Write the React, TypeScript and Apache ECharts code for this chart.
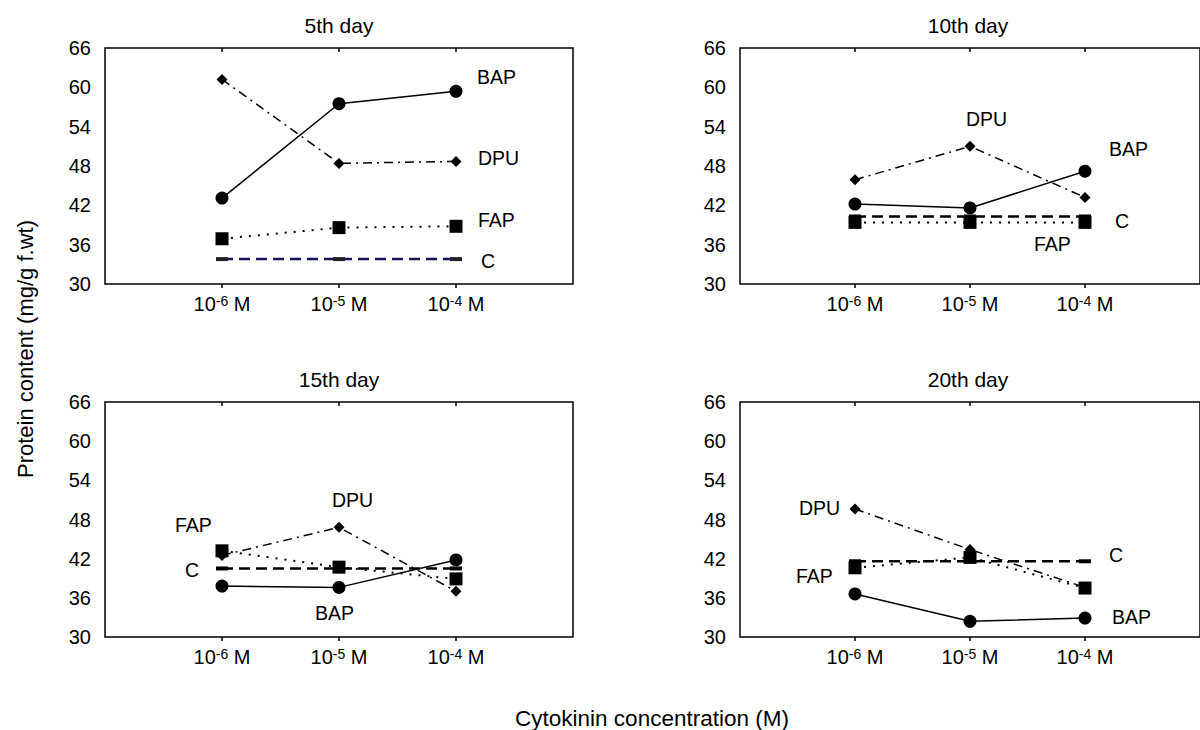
import React, { useEffect, useRef } from "react";
import * as echarts from "echarts";

// ---- data ----
const concentrations = [1, 2, 3];
const exponents = ["-6", "-5", "-4"];
const panelTitles = ["5th day", "10th day", "15th day", "20th day"];
const seriesNames = ["BAP", "DPU", "FAP", "C"];

const bap5 = [43.1, 57.5, 59.4];
const dpu5 = [61.2, 48.4, 48.7];
const fap5 = [36.9, 38.6, 38.8];
const c5 = [33.8, 33.8, 33.8];

const bap10 = [42.2, 41.6, 47.2];
const dpu10 = [45.9, 51.0, 43.2];
const fap10 = [39.4, 39.4, 39.4];
const c10 = [40.3, 40.3, 40.3];

const bap15 = [37.8, 37.6, 41.8];
const dpu15 = [42.5, 46.8, 37.0];
const fap15 = [43.2, 40.7, 38.9];
const c15 = [40.5, 40.5, 40.5];

const bap20 = [36.6, 32.4, 32.9];
const dpu20 = [49.6, 43.4, 37.6];
const fap20 = [40.6, 42.2, 37.5];
const c20 = [41.6, 41.6, 41.6];

const panelData = [
  [bap5, dpu5, fap5, c5],
  [bap10, dpu10, fap10, c10],
  [bap15, dpu15, fap15, c15],
  [bap20, dpu20, fap20, c20],
];

const FONT = "Liberation Sans, Arial, Helvetica, sans-serif";

const grids = [
  { left: 105, top: 48, width: 468, height: 236 },
  { left: 740, top: 48, width: 468, height: 236 },
  { left: 105, top: 402, width: 468, height: 235 },
  { left: 740, top: 402, width: 468, height: 235 },
];

const styleFor = (name: string, panel: number) => {
  const black = "#000";
  switch (name) {
    case "BAP":
      return { symbol: "circle", symbolSize: 13, lineStyle: { color: black, width: 1.5, type: "solid" }, itemStyle: { color: black } };
    case "DPU":
      return { symbol: "diamond", symbolSize: 11, lineStyle: { color: black, width: 1.5, type: [9, 5, 2, 5] }, itemStyle: { color: black } };
    case "FAP":
      return { symbol: "rect", symbolSize: 13, lineStyle: { color: black, width: 2, type: [2, 7] }, itemStyle: { color: black } };
    default: {
      const col = panel === 0 ? "#14145a" : black;
      return { symbol: "rect", symbolSize: [12, 4], lineStyle: { color: col, width: 2.5, type: [11, 6] }, itemStyle: { color: panel === 0 ? "#222" : black } };
    }
  }
};

// annotation label positions (pixels)
const labelPos: [string, number, number][][] = [
  [["BAP", 477, 77], ["DPU", 478, 158], ["FAP", 478, 220], ["C", 481, 261]],
  [["DPU", 966, 119], ["BAP", 1109, 149], ["C", 1115, 221], ["FAP", 1034, 244]],
  [["FAP", 175, 525], ["C", 185, 570], ["DPU", 332, 500], ["BAP", 315, 613]],
  [["DPU", 799, 508], ["C", 1109, 555], ["FAP", 796, 576], ["BAP", 1112, 617]],
];
const titlePos: [number, number][] = [
  [339, 25],
  [968, 25],
  [339, 379],
  [968, 379],
];

export default function App() {
  const ref = useRef<HTMLDivElement>(null);
  useEffect(() => {
    if (!ref.current) return;
    const chart = echarts.init(ref.current, undefined, { renderer: "svg" });

    const xAxes: any[] = [];
    const yAxes: any[] = [];
    const series: any[] = [];
    const graphics: any[] = [];

    grids.forEach((g, i) => {
      xAxes.push({
        type: "value",
        gridIndex: i,
        min: 0,
        max: 4,
        interval: 1,
        position: "bottom",
        axisLine: { show: false },
        splitLine: { show: false },
        axisTick: { show: true, customValues: concentrations, inside: false, length: 4, lineStyle: { color: "#000", width: 1.5 } },
        axisLabel: {
          customValues: concentrations,
          color: "#000",
          fontFamily: FONT,
          fontSize: 20,
          margin: 10,
          formatter: (v: number) => `10{s|${exponents[Math.round(v) - 1]}} M`,
          rich: {
            s: { fontSize: 14, fontFamily: FONT, color: "#000", verticalAlign: "top", lineHeight: 14, padding: [0, 0, 10, 0] },
          },
        },
      });
      xAxes.push({
        type: "value",
        gridIndex: i,
        min: 0,
        max: 4,
        interval: 1,
        position: "top",
        axisLine: { show: false },
        splitLine: { show: false },
        axisTick: { show: true, customValues: concentrations, inside: true, length: 4, lineStyle: { color: "#000", width: 1.5 } },
        axisLabel: { show: false },
      });
      yAxes.push({
        type: "value",
        gridIndex: i,
        min: 30,
        max: 66,
        interval: 6,
        axisLine: { show: false },
        axisTick: { show: false },
        splitLine: { show: false },
        axisLabel: { color: "#000", fontFamily: FONT, fontSize: 20, margin: 14 },
      });

      panelData[i].forEach((vals, k) => {
        const name = seriesNames[k];
        series.push({
          type: "line",
          name,
          xAxisIndex: i * 2,
          yAxisIndex: i,
          data: concentrations.map((c, j) => [c, vals[j]]),
          ...styleFor(name, i),
          z: name === "BAP" ? 5 : 4,
        });
      });

      graphics.push({
        type: "text",
        x: titlePos[i][0],
        y: titlePos[i][1],
        style: { text: panelTitles[i], fill: "#000", fontSize: 21, fontFamily: FONT, align: "center", verticalAlign: "middle" },
      });
      labelPos[i].forEach(([t, x, y]) => {
        graphics.push({
          type: "text",
          x,
          y,
          style: { text: t, fill: "#000", fontSize: 19.5, fontFamily: FONT, align: "left", verticalAlign: "middle" },
        });
      });
    });

    graphics.push({
      type: "text",
      x: 652,
      y: 718,
      style: { text: "Cytokinin concentration (M)", fill: "#000", fontSize: 22.5, fontFamily: FONT, align: "center", verticalAlign: "middle" },
    });
    graphics.push({
      type: "text",
      x: 25,
      y: 349,
      rotation: Math.PI / 2,
      style: { text: "Protein content (mg/g f.wt)", fill: "#000", fontSize: 22, fontFamily: FONT, align: "center", verticalAlign: "middle" },
    });

    chart.setOption({
      animation: false,
      backgroundColor: "#fff",
      grid: grids.map((g) => ({ ...g, show: true, borderColor: "#000", borderWidth: 1.5, backgroundColor: "transparent", containLabel: false })),
      xAxis: xAxes,
      yAxis: yAxes,
      series,
      graphic: graphics,
    });
    return () => chart.dispose();
  }, []);
  return <div ref={ref} style={{ position: "absolute", left: 0, top: 0, width: 1200, height: 730 }} />;
}
